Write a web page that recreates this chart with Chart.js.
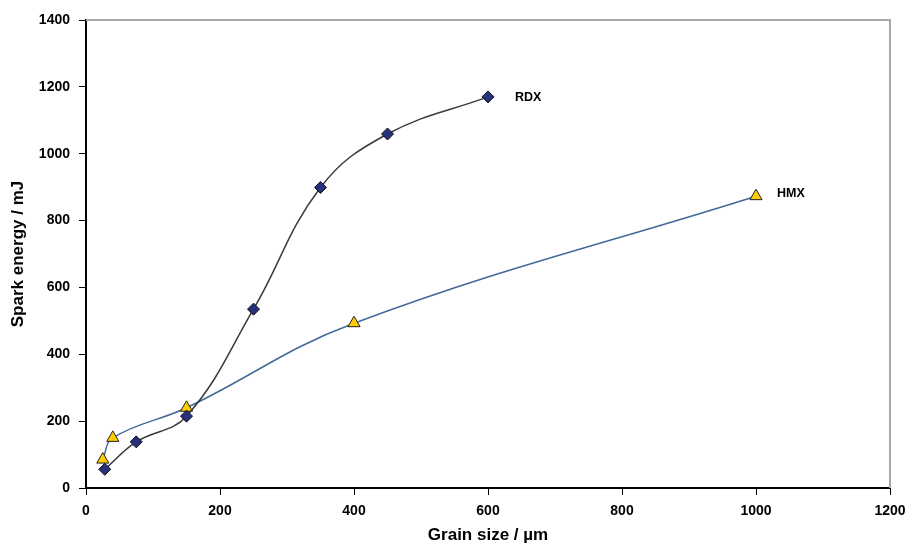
<!DOCTYPE html>
<html>
<head>
<meta charset="utf-8">
<style>
    html, body { margin: 0; padding: 0; background: #fff; }
    #wrap { width: 908px; height: 549px; }
</style>
<script src="https://cdn.jsdelivr.net/npm/chart.js@4/dist/chart.umd.min.js"></script>
</head>
<body>
<div id="wrap"><canvas id="spark-chart" width="908" height="549"></canvas></div>
<script>
    'use strict';

    // Data
    var rdxSize = [28, 75, 150, 250, 350, 450, 600];
    var rdxEnergy = [56, 138, 215, 535, 899, 1059, 1170];
    var hmxSize = [25, 40, 150, 400, 1000];
    var hmxEnergy = [85, 150, 240, 493, 873];
    var xTicks = [0, 200, 400, 600, 800, 1000, 1200];
    var yTicks = [0, 200, 400, 600, 800, 1000, 1200, 1400];
    var seriesNames = ['RDX', 'HMX'];

    function toPoints(xs, ys) {
        return xs.map(function (x, i) {
            return { x: x, y: ys[i] };
        });
    }

    /**
     * Grey frame on top and right, plus series names at the line ends.
     */
    var framePlugin = {
        id: 'frameAndNames',
        afterDraw: function (chart) {
            var ctx = chart.ctx;
            var area = chart.chartArea;
            ctx.save();
            ctx.strokeStyle = '#a8a8a8';
            ctx.lineWidth = 2;
            ctx.beginPath();
            ctx.moveTo(area.left, area.top);
            ctx.lineTo(area.right, area.top);
            ctx.lineTo(area.right, area.bottom);
            ctx.stroke();

            ctx.fillStyle = '#000';
            ctx.font = 'bold 12.5px "Liberation Sans", Arial, sans-serif';
            ctx.textBaseline = 'middle';
            var offsets = [[27, 1], [21, -3]];
            chart.data.datasets.forEach(function (ds, i) {
                var last = ds.data[ds.data.length - 1];
                var px = chart.scales.x.getPixelForValue(last.x);
                var py = chart.scales.y.getPixelForValue(last.y);
                ctx.fillText(seriesNames[i], px + offsets[i][0], py + offsets[i][1]);
            });
            ctx.restore();
        }
    };

    var tickFont = { family: '"Liberation Sans", Arial, sans-serif', size: 14, weight: 'bold' };
    var titleFont = { family: '"Liberation Sans", Arial, sans-serif', size: 17, weight: 'bold' };

    function plainLabel(value) {
        return String(value);
    }

    new Chart(document.getElementById('spark-chart').getContext('2d'), {
        type: 'line',
        data: {
            datasets: [{
                label: seriesNames[0],
                data: toPoints(rdxSize, rdxEnergy),
                borderColor: '#3a3a3a',
                borderWidth: 1.5,
                tension: 0.4,
                fill: false,
                pointStyle: 'rectRot',
                pointRadius: 6,
                pointBackgroundColor: '#27307a',
                pointBorderColor: '#111',
                pointBorderWidth: 1
            }, {
                label: seriesNames[1],
                data: toPoints(hmxSize, hmxEnergy),
                borderColor: '#41699a',
                borderWidth: 1.5,
                tension: 0.4,
                fill: false,
                pointStyle: 'triangle',
                pointRadius: 7,
                pointBackgroundColor: '#ffcc00',
                pointBorderColor: '#222',
                pointBorderWidth: 1
            }]
        },
        options: {
            responsive: false,
            animation: false,
            layout: {
                padding: { top: 20, right: 18, left: 0, bottom: 0 }
            },
            plugins: {
                legend: { display: false },
                tooltip: { enabled: false }
            },
            scales: {
                x: {
                    type: 'linear',
                    min: 0,
                    max: 1200,
                    afterBuildTicks: function (scale) {
                        scale.ticks = xTicks.map(function (v) { return { value: v }; });
                    },
                    afterFit: function (scale) {
                        scale.height = 61;
                        scale.paddingRight = 0;
                    },
                    grid: {
                        drawOnChartArea: false,
                        drawTicks: true,
                        tickLength: 7,
                        tickColor: '#000',
                        tickWidth: 1
                    },
                    border: { display: true, color: '#000', width: 2 },
                    ticks: {
                        color: '#000',
                        font: tickFont,
                        padding: 8,
                        maxRotation: 0,
                        callback: plainLabel
                    },
                    title: {
                        display: true,
                        text: 'Grain size / µm',
                        color: '#000',
                        font: titleFont,
                        padding: { top: 3, bottom: 3 }
                    }
                },
                y: {
                    type: 'linear',
                    min: 0,
                    max: 1400,
                    afterBuildTicks: function (scale) {
                        scale.ticks = yTicks.map(function (v) { return { value: v }; });
                    },
                    afterFit: function (scale) {
                        scale.width = 86;
                    },
                    grid: {
                        drawOnChartArea: false,
                        drawTicks: true,
                        tickLength: 7,
                        tickColor: '#000',
                        tickWidth: 1
                    },
                    border: { display: true, color: '#000', width: 2 },
                    ticks: {
                        color: '#000',
                        font: tickFont,
                        padding: 9,
                        callback: plainLabel
                    },
                    title: {
                        display: true,
                        text: 'Spark energy / mJ',
                        color: '#000',
                        font: titleFont,
                        padding: { top: 8, bottom: 8 }
                    }
                }
            }
        },
        plugins: [framePlugin]
    });
</script>
</body>
</html>
